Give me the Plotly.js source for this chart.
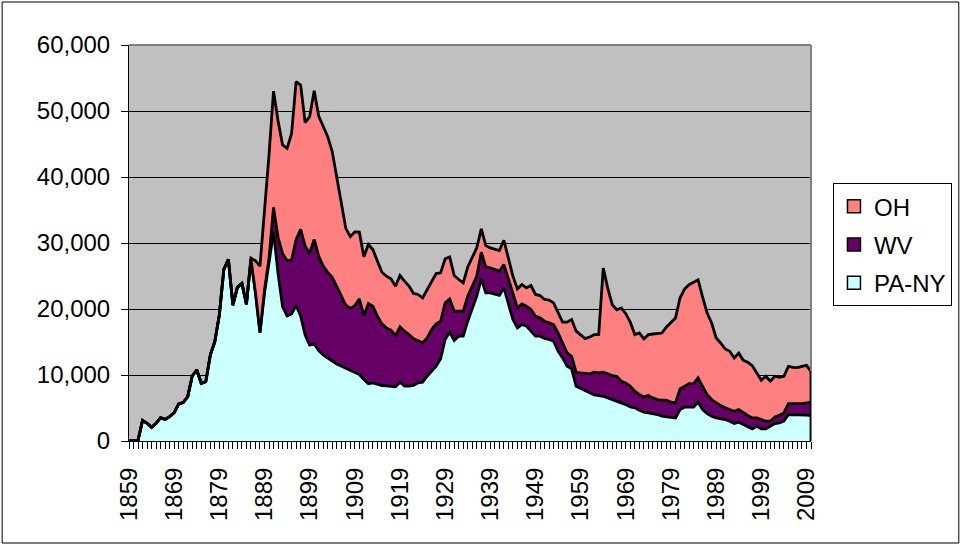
<!DOCTYPE html>
<html>
<head>
<meta charset="utf-8">
<script src="https://cdn.plot.ly/plotly-3.0.1.min.js"></script>
<style>
  html, body { margin: 0; padding: 0; background: #ffffff; }
  #chart { width: 963px; height: 546px; }
</style>
</head>
<body>
<div id="chart"></div>
<script>
// Annual production (thousand barrels), 1859-2010
var firstYear = 1859;
var lastYear = 2010;

var paNY = [
  0,0,100,3100,2680,2070,2680,3540,3280,3690,
  4290,5610,5810,6720,9850,10760,8740,8990,13030,15050,
  19090,26010,27520,20600,23280,23890,20700,27520,22500,16410,
  22400,27000,31700,25350,20350,18940,19240,20500,18940,16060,
  14540,14700,13690,13030,12520,12120,11670,11360,11010,10760,
  10450,10070,9320,8660,8810,8560,8410,8360,8310,8210,
  8910,8310,8310,8410,8810,8910,9820,10580,11340,12450,
  15380,16490,15230,15880,15880,18150,20020,21940,24570,22450,
  22450,22300,22050,23210,20930,18410,17150,17650,17400,16640,
  15880,15880,15530,15380,15130,13610,12600,11340,10930,8310,
  7970,7540,7290,6980,6880,6780,6530,6280,6030,5880,
  5520,5170,5020,4670,4360,4260,4160,4010,3760,3660,
  3660,3500,4770,5120,5120,5120,5880,4770,4160,3760,
  3500,3400,3250,3000,2650,2850,2500,2140,1840,2240,
  1840,1840,2240,2650,2750,3000,4010,4010,4010,3960,
  3910,3860
];

var wv = [
  0,0,0,0,0,0,0,0,0,0,
  0,0,0,0,0,0,0,0,0,0,
  0,0,0,0,0,0,0,0,0,0,
  500,700,3700,5510,8080,8380,8180,10050,13130,13480,
  13890,15850,14340,13480,13030,12680,11810,10610,9590,9340,
  10060,11470,9690,12170,11620,10350,9340,8780,8480,7770,
  8390,8330,7830,7070,6320,5960,5810,6310,6410,5700,
  5550,5050,4440,3790,3790,3790,3440,3030,4040,3930,
  3780,3680,3680,3530,3540,3790,3030,3130,3030,3280,
  3030,2780,2620,2520,2520,2780,2300,2000,1900,2100,
  2340,2670,2870,3430,3430,3630,3630,3640,3780,3170,
  3280,3120,2520,2360,2320,2620,2370,2270,2420,2520,
  2220,2270,3120,3170,3580,3580,3680,3520,2870,2520,
  2270,1970,1770,1770,1860,1920,1760,1720,1660,1260,
  1410,1160,760,1010,1160,1260,1660,1660,1610,1710,
  1860,2020
];

var oh = [
  0,0,0,0,0,0,0,0,0,0,
  0,0,0,0,0,0,0,0,0,0,
  0,0,0,0,0,0,0,200,4820,10090,
  11700,15600,17600,17670,16420,17020,19190,23890,21860,18690,
  20700,22520,21200,21010,20560,19030,16570,14540,11620,10860,
  11170,10100,8890,8940,8580,8340,7830,7830,7780,7480,
  7770,7580,7320,6870,7070,6820,7320,7170,7630,7330,
  6670,6360,5400,4800,4290,4440,4290,4290,3530,3240,
  3030,3030,3130,3680,3130,2770,2870,2930,2780,3640,
  3290,3380,3290,3440,3280,3030,3110,4670,5580,6230,
  5830,5300,5600,5700,5800,15790,13010,10730,10080,11100,
  10490,9690,8570,9330,8780,9230,9680,9980,10180,11090,
  12100,12870,13770,14730,14980,15330,14870,13520,12360,11600,
  9840,9480,8920,8820,8070,8570,7970,8070,7920,6810,
  5950,6810,6050,6150,5750,5550,5650,5500,5500,5650,
  5700,4680
];

var seriesNames = ["PA-NY", "WV", "OH"];
var seriesColors = ["#CCFFFF", "#660066", "#FF8080"];

var years = [];
for (var yr = firstYear; yr <= lastYear; yr++) years.push(yr);

var seriesData = [paNY, wv, oh];
var FONT = "Liberation Sans, Arial, Helvetica, sans-serif";

var traces = [];
// stacked areas (bottom to top)
for (var i = 0; i < 3; i++) {
  traces.push({
    type: "scatter",
    mode: "lines",
    x: years,
    y: seriesData[i],
    name: seriesNames[i],
    stackgroup: "prod",
    fillcolor: seriesColors[i],
    line: { color: "#000000", width: 2.8, shape: "linear" },
    showlegend: false,
    hoverinfo: "x+y+name"
  });
}
// legend swatches (square markers), listed top to bottom: OH, WV, PA-NY
for (var j = 2; j >= 0; j--) {
  traces.push({
    type: "scatter",
    mode: "markers",
    x: [null],
    y: [null],
    name: seriesNames[j],
    legendgroup: "g" + (2 - j),
    marker: { symbol: "square", size: 13, color: seriesColors[j],
              line: { color: "#000000", width: 1.5 } },
    showlegend: true
  });
}

var n = years.length;
var lastTotal = paNY[n - 1] + wv[n - 1] + oh[n - 1];

var layout = {
  width: 963,
  height: 546,
  margin: { l: 129, r: 151, t: 45, b: 105, pad: 0 },
  paper_bgcolor: "#FFFFFF",
  plot_bgcolor: "#C0C0C0",
  font: { family: FONT, size: 24, color: "#000000" },
  showlegend: true,
  xaxis: {
    range: [firstYear, lastYear],
    tick0: firstYear,
    dtick: 10,
    tickmode: "linear",
    ticks: "outside",
    ticklen: 7,
    tickwidth: 1,
    tickcolor: "#000000",
    tickangle: -90,
    ticklabelstandoff: 9,
    tickfont: { family: FONT, size: 24, color: "#000000" },
    showline: true,
    linecolor: "#000000",
    linewidth: 1,
    showgrid: false,
    zeroline: false,
    minor: { dtick: 1, tick0: firstYear, ticks: "outside", ticklen: 7, tickwidth: 1,
             tickcolor: "#000000", showgrid: false }
  },
  yaxis: {
    range: [0, 60000],
    dtick: 10000,
    tick0: 0,
    tickmode: "linear",
    tickformat: ",d",
    ticks: "outside",
    ticklen: 7,
    tickwidth: 1,
    tickcolor: "#000000",
    ticklabelstandoff: 6,
    tickfont: { family: FONT, size: 24, color: "#000000" },
    showline: true,
    linecolor: "#000000",
    linewidth: 1,
    showgrid: true,
    gridcolor: "#000000",
    gridwidth: 1,
    zeroline: false
  },
  legend: {
    x: 1.0307,
    y: 0.651,
    xanchor: "left",
    yanchor: "top",
    bgcolor: "#FFFFFF",
    bordercolor: "#000000",
    borderwidth: 1,
    traceorder: "grouped",
    tracegroupgap: 4,
    font: { family: FONT, size: 24, color: "#000000" }
  },
  shapes: [
    { type: "line", xref: "paper", yref: "paper", x0: 0, x1: 1, y0: 1, y1: 1,
      line: { color: "#808080", width: 2 }, layer: "above" },
    { type: "line", xref: "paper", yref: "paper", x0: 1, x1: 1, y0: 0, y1: 1,
      line: { color: "#808080", width: 2 }, layer: "above" },
    { type: "line", xref: "x", yref: "y", x0: years[n - 1], x1: years[n - 1], y0: 0, y1: lastTotal,
      line: { color: "#000000", width: 2.8 }, layer: "above" },
    { type: "rect", xref: "paper", yref: "paper", x0: -0.186, x1: 1.2167, y0: -0.2576, y1: 1.1086,
      line: { color: "#000000", width: 1 }, fillcolor: "rgba(0,0,0,0)", layer: "above" }
  ]
};

Plotly.newPlot("chart", traces, layout, { displayModeBar: false, staticPlot: true });
</script>
</body>
</html>
